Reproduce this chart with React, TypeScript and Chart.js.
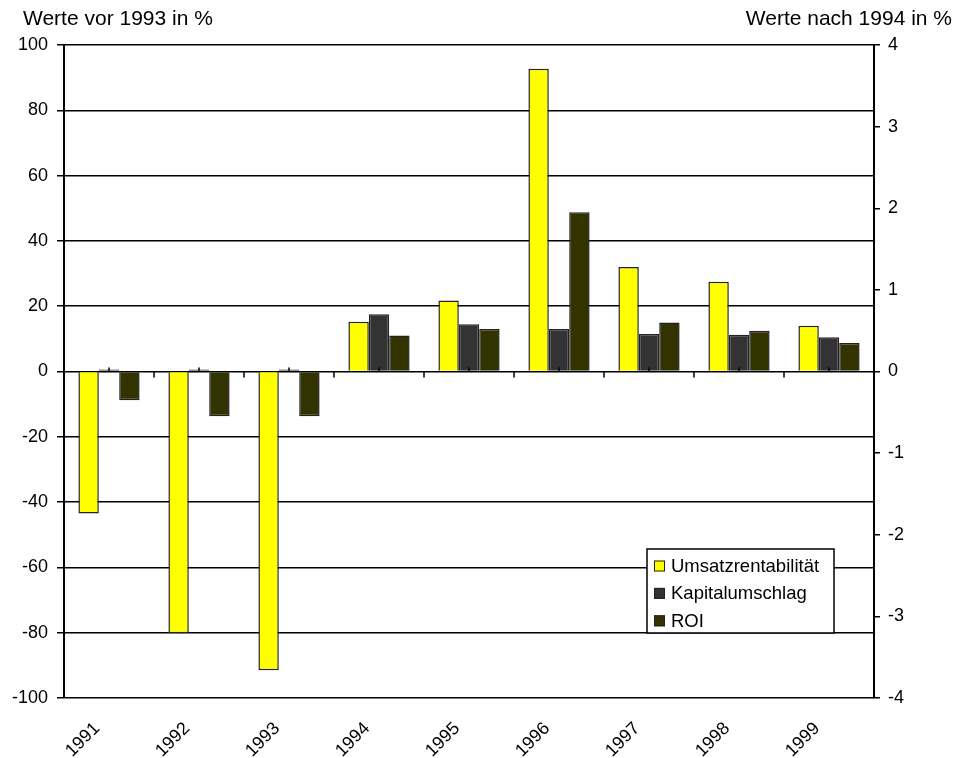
import React, { useEffect, useRef } from 'react';
import { Chart, registerables } from 'chart.js';

Chart.register(...registerables);

// ---- data ----
const years = ['1991', '1992', '1993', '1994', '1995', '1996', '1997', '1998', '1999'];
const seriesNames = ['Umsatzrentabilität', 'Kapitalumschlag', 'ROI'];
const seriesColors = ['#ffff00', '#333333', '#333300'];

// values before 1994 (left axis, %)
const umsatzVor = [-43.5, -80.2, -91.5];
const kapitalVor = [0.6, 0.6, 0.6];
const roiVor = [-8.8, -13.7, -13.7];

// values from 1994 on (right axis, %)
const umsatzNach = [0.61, 0.87, 3.71, 1.28, 1.1, 0.56];
const kapitalNach = [0.7, 0.58, 0.52, 0.46, 0.45, 0.42];
const roiNach = [0.44, 0.52, 1.95, 0.6, 0.5, 0.35];

const leftTitle = 'Werte vor 1993 in %';
const rightTitle = 'Werte nach 1994 in %';

const FONT = '"Liberation Sans", Arial, Helvetica, sans-serif';

const before = (arr: number[]) => [...arr, ...Array(years.length - arr.length).fill(null)];
const after = (arr: number[]) => [...Array(years.length - arr.length).fill(null), ...arr];

const decorPlugin = {
  id: 'decor',
  afterDatasetsDraw(chart: any) {
    const { ctx, scales } = chart;
    const x = scales.x;
    const y0 = scales.y.getPixelForValue(0);
    ctx.save();
    ctx.strokeStyle = '#000';
    ctx.lineWidth = 1.5;
    ctx.beginPath();
    for (let i = 0; i < years.length; i++) {
      const cx = x.getPixelForValue(i);
      ctx.moveTo(cx, y0 - 4);
      ctx.lineTo(cx, y0);
      if (i < years.length - 1) {
        const bx = (cx + x.getPixelForValue(i + 1)) / 2;
        ctx.moveTo(bx, y0);
        ctx.lineTo(bx, y0 + 6);
      }
    }
    ctx.stroke();
    ctx.restore();
  },
  afterDraw(chart: any) {
    const { ctx, chartArea } = chart;
    ctx.save();
    // axis titles
    ctx.fillStyle = '#000';
    ctx.font = `21px ${FONT}`;
    ctx.textBaseline = 'middle';
    ctx.textAlign = 'left';
    ctx.fillText(leftTitle, 23, 19);
    ctx.textAlign = 'right';
    ctx.fillText(rightTitle, 952, 19);

    // legend box
    const lx = chartArea.left + 583;
    const ly = chartArea.top + 504;
    const lw = 187;
    const lh = 84;
    ctx.fillStyle = '#fff';
    ctx.fillRect(lx, ly, lw, lh);
    ctx.lineWidth = 1.5;
    ctx.strokeStyle = '#000';
    ctx.strokeRect(lx, ly, lw, lh);
    ctx.font = `18.5px ${FONT}`;
    ctx.textAlign = 'left';
    ctx.textBaseline = 'middle';
    seriesNames.forEach((name, i) => {
      const cy = ly + 17 + i * 27.4;
      ctx.fillStyle = seriesColors[i];
      ctx.fillRect(lx + 7, cy - 5.5, 11, 11);
      ctx.lineWidth = 1;
      ctx.strokeStyle = '#222';
      ctx.strokeRect(lx + 7.5, cy - 5, 10, 10);
      ctx.fillStyle = '#000';
      ctx.fillText(name, lx + 24, cy + 1);
    });
    ctx.restore();
  },
};

export default function App() {
  const ref = useRef<HTMLCanvasElement>(null);

  useEffect(() => {
    if (!ref.current) return;
    const mk = (i: number, data: (number | null)[], axis: string) => ({
      label: seriesNames[i],
      data,
      yAxisID: axis,
      stack: 's' + i,
      backgroundColor: seriesColors[i],
      borderColor: '#222',
      borderWidth: 1.5,
      barPercentage: 1,
      categoryPercentage: 0.68,
    });
    const chart = new Chart(ref.current, {
      type: 'bar',
      data: {
        labels: years,
        datasets: [
          mk(0, before(umsatzVor), 'y'),
          mk(1, before(kapitalVor), 'y'),
          mk(2, before(roiVor), 'y'),
          mk(0, after(umsatzNach), 'y1'),
          mk(1, after(kapitalNach), 'y1'),
          mk(2, after(roiNach), 'y1'),
        ],
      },
      options: {
        responsive: false,
        animation: false,
        layout: { padding: { top: 45, left: 0, right: 0, bottom: 0 } },
        plugins: {
          legend: { display: false },
          tooltip: { enabled: false },
        },
        scales: {
          x: {
            grid: { display: false },
            border: { display: false },
            ticks: {
              color: '#000',
              font: { family: FONT, size: 18 },
              maxRotation: 45,
              minRotation: 45,
              padding: 12,
              labelOffset: -12,
            },
            afterFit: (s: any) => {
              s.height = 60;
            },
          },
          y: {
            position: 'left',
            min: -100,
            max: 100,
            grid: { color: '#000', lineWidth: 1.5, tickLength: 7 },
            border: { display: true, color: '#000', width: 2 },
            ticks: {
              stepSize: 20,
              color: '#000',
              font: { family: FONT, size: 18 },
              padding: 9,
            },
            afterFit: (s: any) => {
              s.width = 64;
            },
          },
          y1: {
            position: 'right',
            min: -4,
            max: 4,
            grid: { drawOnChartArea: false, color: '#000', lineWidth: 1.5, tickLength: 6 },
            border: { display: true, color: '#000', width: 2 },
            ticks: {
              stepSize: 1,
              color: '#000',
              font: { family: FONT, size: 18 },
              padding: 8,
            },
            afterFit: (s: any) => {
              s.width = 83;
            },
          },
        },
      },
      plugins: [decorPlugin],
    } as any);
    return () => chart.destroy();
  }, []);

  return (
    <div style={{ position: 'absolute', left: 0, top: 0, width: 957, height: 758, background: '#fff' }}>
      <canvas ref={ref} width={957} height={758} style={{ display: 'block' }} />
    </div>
  );
}
